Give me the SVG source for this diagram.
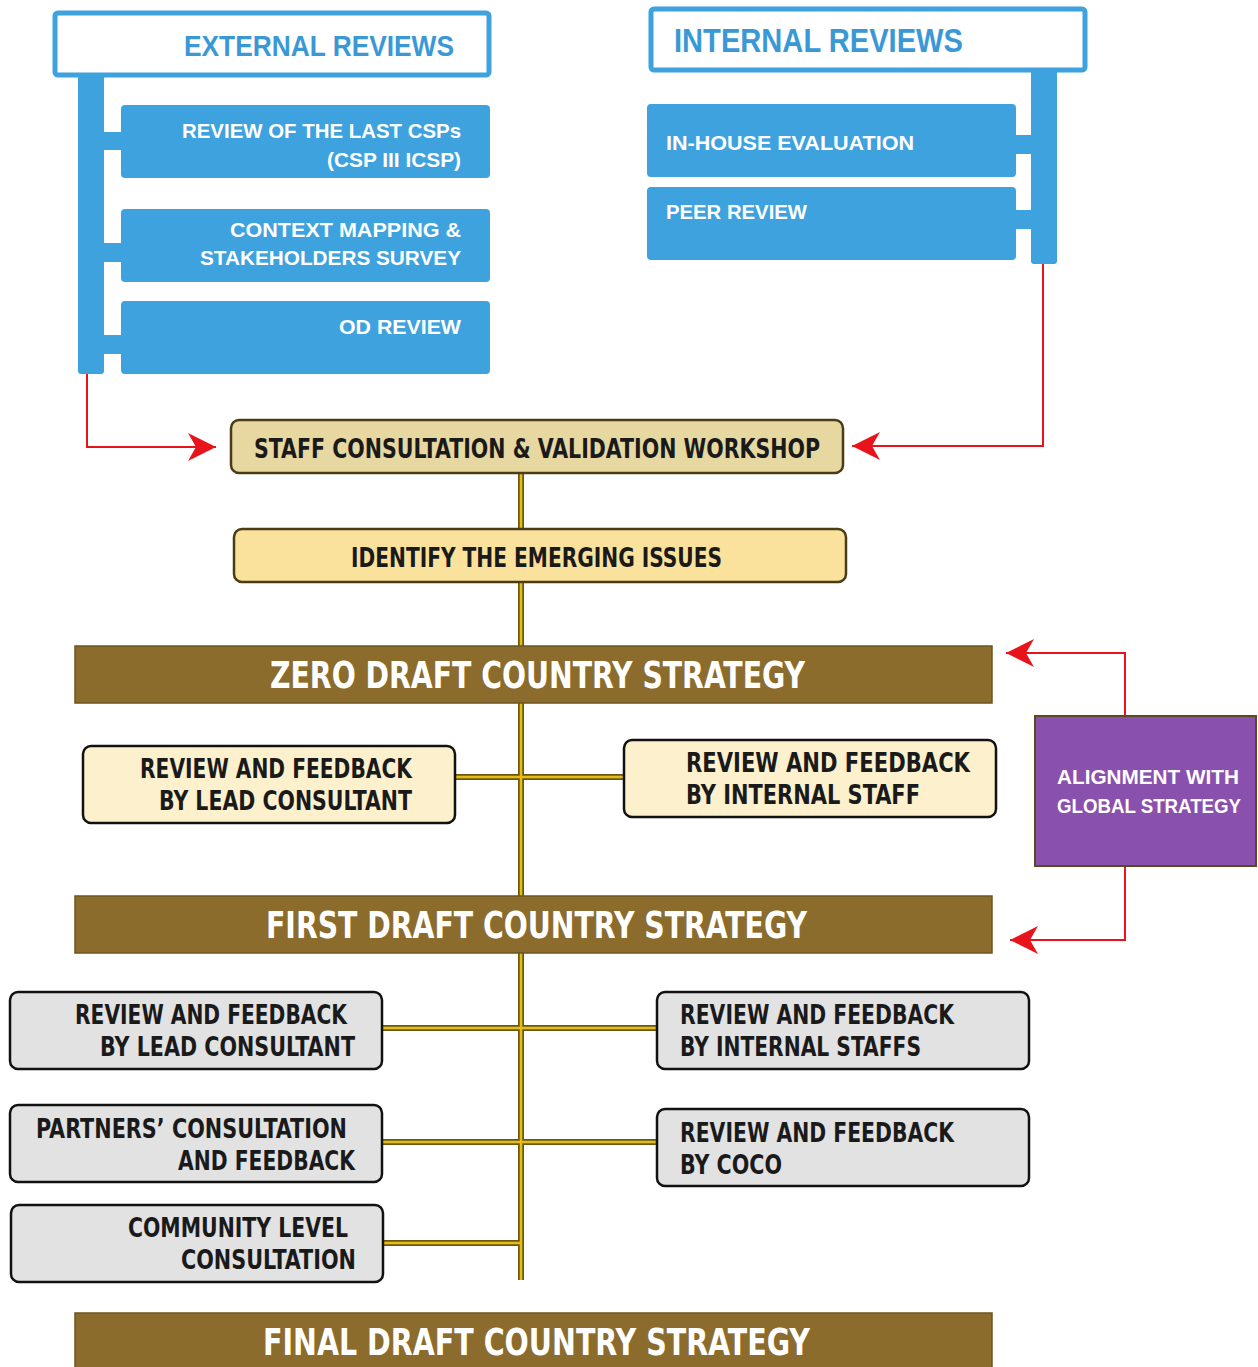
<svg xmlns="http://www.w3.org/2000/svg" width="1258" height="1367" viewBox="0 0 1258 1367">
<style>
.blue{fill:#3ea2de}
.hdr{fill:#fff;stroke:#3ea2de;stroke-width:5}
.hdrt{font-family:"Liberation Sans",Arial,sans-serif;font-weight:bold;fill:#3a98d6}
.bt{font-family:"Liberation Sans",Arial,sans-serif;font-weight:bold;fill:#fff;font-size:21px}
.ct{font-family:"Liberation Sans Narrow","DejaVu Sans Condensed","Liberation Sans",sans-serif;font-weight:bold;fill:#1a1a1a;font-size:26px}
.bar{fill:#8b6c2d;stroke:#6e5420;stroke-width:1.5}
.bart{font-family:"Liberation Sans Narrow","DejaVu Sans Condensed","Liberation Sans",sans-serif;font-weight:bold;fill:#fff;font-size:38px}
.tan{fill:#e6d8a0;stroke:#4a3c14;stroke-width:2.5}
.yel{fill:#fae19c;stroke:#4a3c14;stroke-width:2.5}
.cream{fill:#fdf1cd;stroke:#111;stroke-width:2.5}
.gray{fill:#e2e2e3;stroke:#111;stroke-width:2.5}
.lo{stroke:#6b5810;stroke-width:6;fill:none}
.li{stroke:#e5bd1a;stroke-width:2.5;fill:none}
.red{stroke:#e8141c;stroke-width:2;fill:none}
</style>
<defs>
<marker id="ah" markerUnits="userSpaceOnUse" markerWidth="30" markerHeight="28" refX="28" refY="14" orient="auto" viewBox="0 0 30 28">
<path d="M0,0 L28,14 L0,28 L8,14 Z" fill="#e8141c"/>
</marker>
</defs>
<rect width="1258" height="1367" fill="#fff"/>

<g id="connectors">
<path class="red" d="M87,374 V447 H216" marker-end="url(#ah)"/>
<path class="red" d="M1043,264 V446 H852" marker-end="url(#ah)"/>
<path class="red" d="M1125,716 V653 H1006" marker-end="url(#ah)"/>
<path class="red" d="M1125,866 V940 H1010" marker-end="url(#ah)"/>
<g class="lo">
<path d="M521,473 V529 M521,582 V646 M521,703 V896 M521,953 V1280"/>
<path d="M455,777 H624 M382,1028 H657 M382,1142 H657 M383,1243 H521"/>
</g>
<g class="li">
<path d="M521,473 V529 M521,582 V646 M521,703 V896 M521,953 V1280"/>
<path d="M455,777 H624 M382,1028 H657 M382,1142 H657 M383,1243 H521"/>
</g>
</g>

<g id="external-reviews">
<rect class="blue" x="78" y="70" width="26" height="304" rx="3"/>
<rect class="hdr" x="55" y="13" width="434" height="62" rx="3"/>
<text class="hdrt" x="184" y="56" font-size="30" textLength="270" lengthAdjust="spacingAndGlyphs">EXTERNAL REVIEWS</text>
</g>
<g id="review-last-csps">
<rect class="blue" x="100" y="132" width="25" height="18"/>
<rect class="blue" x="121" y="105" width="369" height="73" rx="4"/>
<text class="bt" x="182" y="138" textLength="279" lengthAdjust="spacingAndGlyphs">REVIEW OF THE LAST CSPs</text>
<text class="bt" x="327" y="167" textLength="134" lengthAdjust="spacingAndGlyphs">(CSP III ICSP)</text>
</g>
<g id="context-mapping">
<rect class="blue" x="100" y="243" width="25" height="19"/>
<rect class="blue" x="121" y="209" width="369" height="73" rx="4"/>
<text class="bt" x="230" y="237" textLength="231" lengthAdjust="spacingAndGlyphs">CONTEXT MAPPING &amp;</text>
<text class="bt" x="200" y="265" textLength="261" lengthAdjust="spacingAndGlyphs">STAKEHOLDERS SURVEY</text>
</g>
<g id="od-review">
<rect class="blue" x="100" y="335" width="25" height="19"/>
<rect class="blue" x="121" y="301" width="369" height="73" rx="4"/>
<text class="bt" x="339" y="334" textLength="122" lengthAdjust="spacingAndGlyphs">OD REVIEW</text>
</g>

<g id="internal-reviews">
<rect class="blue" x="1031" y="66" width="26" height="198" rx="3"/>
<rect class="hdr" x="651" y="9" width="434" height="61" rx="3"/>
<text class="hdrt" x="674" y="52" font-size="33" textLength="289" lengthAdjust="spacingAndGlyphs">INTERNAL REVIEWS</text>
</g>
<g id="in-house-evaluation">
<rect class="blue" x="1012" y="135" width="24" height="19"/>
<rect class="blue" x="647" y="104" width="369" height="73" rx="4"/>
<text class="bt" x="666" y="150" textLength="248" lengthAdjust="spacingAndGlyphs">IN-HOUSE EVALUATION</text>
</g>
<g id="peer-review">
<rect class="blue" x="1012" y="210" width="24" height="19"/>
<rect class="blue" x="647" y="187" width="369" height="73" rx="4"/>
<text class="bt" x="666" y="219" textLength="141" lengthAdjust="spacingAndGlyphs">PEER REVIEW</text>
</g>

<g id="staff-consultation">
<rect class="tan" x="231" y="420" width="612" height="53" rx="8"/>
<text class="ct" x="254" y="458" textLength="566" lengthAdjust="spacingAndGlyphs">STAFF CONSULTATION &amp; VALIDATION WORKSHOP</text>
</g>
<g id="identify-issues">
<rect class="yel" x="234" y="529" width="612" height="53" rx="8"/>
<text class="ct" x="351" y="567" textLength="371" lengthAdjust="spacingAndGlyphs">IDENTIFY THE EMERGING ISSUES</text>
</g>

<g id="zero-draft">
<rect class="bar" x="75" y="646" width="917" height="57"/>
<text class="bart" x="270" y="688" textLength="535" lengthAdjust="spacingAndGlyphs">ZERO DRAFT COUNTRY STRATEGY</text>
</g>
<g id="zero-review-lead">
<rect class="cream" x="83" y="746" width="372" height="77" rx="8"/>
<text class="ct" x="140" y="778" textLength="272" lengthAdjust="spacingAndGlyphs">REVIEW AND FEEDBACK</text>
<text class="ct" x="159" y="810" textLength="253" lengthAdjust="spacingAndGlyphs">BY LEAD CONSULTANT</text>
</g>
<g id="zero-review-internal">
<rect class="cream" x="624" y="740" width="372" height="77" rx="8"/>
<text class="ct" x="686" y="772" textLength="284" lengthAdjust="spacingAndGlyphs">REVIEW AND FEEDBACK</text>
<text class="ct" x="686" y="804" textLength="234" lengthAdjust="spacingAndGlyphs">BY INTERNAL STAFF</text>
</g>
<g id="alignment-global">
<rect x="1035" y="716" width="221" height="150" fill="#8a50ae" stroke="#5a4a20" stroke-width="2"/>
<text class="bt" x="1057" y="784" textLength="182" lengthAdjust="spacingAndGlyphs">ALIGNMENT WITH</text>
<text class="bt" x="1057" y="813" textLength="184" lengthAdjust="spacingAndGlyphs">GLOBAL STRATEGY</text>
</g>

<g id="first-draft">
<rect class="bar" x="75" y="896" width="917" height="57"/>
<text class="bart" x="266" y="938" textLength="541" lengthAdjust="spacingAndGlyphs">FIRST DRAFT COUNTRY STRATEGY</text>
</g>
<g id="first-review-lead">
<rect class="gray" x="10" y="992" width="372" height="77" rx="8"/>
<text class="ct" x="75" y="1024" textLength="272" lengthAdjust="spacingAndGlyphs">REVIEW AND FEEDBACK</text>
<text class="ct" x="100" y="1056" textLength="255" lengthAdjust="spacingAndGlyphs">BY LEAD CONSULTANT</text>
</g>
<g id="first-review-internal">
<rect class="gray" x="657" y="992" width="372" height="77" rx="8"/>
<text class="ct" x="680" y="1024" textLength="274" lengthAdjust="spacingAndGlyphs">REVIEW AND FEEDBACK</text>
<text class="ct" x="680" y="1056" textLength="241" lengthAdjust="spacingAndGlyphs">BY INTERNAL STAFFS</text>
</g>
<g id="partners-consultation">
<rect class="gray" x="10" y="1105" width="372" height="77" rx="8"/>
<text class="ct" x="36" y="1138" textLength="311" lengthAdjust="spacingAndGlyphs">PARTNERS’ CONSULTATION</text>
<text class="ct" x="178" y="1170" textLength="177" lengthAdjust="spacingAndGlyphs">AND FEEDBACK</text>
</g>
<g id="review-coco">
<rect class="gray" x="657" y="1109" width="372" height="77" rx="8"/>
<text class="ct" x="680" y="1142" textLength="274" lengthAdjust="spacingAndGlyphs">REVIEW AND FEEDBACK</text>
<text class="ct" x="680" y="1174" textLength="102" lengthAdjust="spacingAndGlyphs">BY COCO</text>
</g>
<g id="community-consultation">
<rect class="gray" x="11" y="1205" width="372" height="77" rx="8"/>
<text class="ct" x="128" y="1237" textLength="220" lengthAdjust="spacingAndGlyphs">COMMUNITY LEVEL</text>
<text class="ct" x="181" y="1269" textLength="175" lengthAdjust="spacingAndGlyphs">CONSULTATION</text>
</g>

<g id="final-draft">
<rect class="bar" x="75" y="1313" width="917" height="60"/>
<text class="bart" x="263" y="1355" textLength="547" lengthAdjust="spacingAndGlyphs">FINAL DRAFT COUNTRY STRATEGY</text>
</g>
</svg>
